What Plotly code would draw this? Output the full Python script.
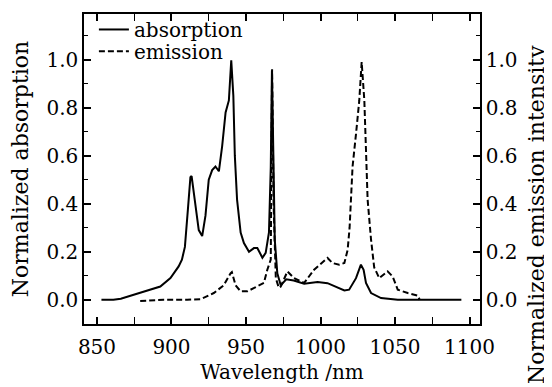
import plotly.graph_objects as go

# Absorption (solid)
abs_wl = [853, 861, 866, 879, 892.5, 899.3, 904.8, 907, 909, 911, 912.7, 913.5, 916, 918.3,
          920.6, 922.8, 925, 927.3, 929.5, 931.8, 934, 936.3, 938.5, 940.1, 941.5, 942.5,
          944, 946.4, 948.6, 952, 955.3, 957.6, 961, 963.2, 965.4, 966.6, 967.4, 968.3,
          969.3, 971, 973.3, 977, 982, 989, 998, 1004.7, 1010.3, 1016, 1019.2, 1023.8,
          1027.1, 1028.9, 1030.5, 1033.9, 1040.6, 1051.8, 1094.5]
abs_val = [0.0, 0.0, 0.004, 0.028, 0.055, 0.09, 0.139, 0.167, 0.22, 0.375, 0.51, 0.515, 0.39, 0.29,
           0.265, 0.35, 0.50, 0.54, 0.555, 0.535, 0.64, 0.78, 0.83, 0.997, 0.85, 0.6,
           0.417, 0.28, 0.236, 0.20, 0.215, 0.215, 0.175, 0.195, 0.28, 0.55, 0.955, 0.6,
           0.25, 0.11, 0.06, 0.085, 0.08, 0.067, 0.074, 0.069, 0.053, 0.039, 0.042, 0.09,
           0.146, 0.125, 0.07, 0.028, 0.007, 0.0, 0.0]

# Emission (dashed)
em_wl = [879, 894.7, 910.5, 919.5, 928.4, 935, 939.6, 940.5, 943, 946.4, 950.9, 957.6, 962,
         964.3, 966.6, 967.5, 968.5, 970, 972, 973.3, 977.8, 982.2, 989, 995.7, 1001.3,
         1004.7, 1008, 1012.5, 1016, 1018.2, 1019.5, 1020.5, 1021.5, 1023.8, 1026, 1027.6,
         1029.4, 1030.5, 1031.6, 1033.9, 1036, 1039.4, 1045, 1048.4, 1051.8, 1058.5, 1065.3, 1066.5]
em_val = [-0.005, 0.0, 0.0, 0.002, 0.028, 0.06, 0.11, 0.115, 0.06, 0.035, 0.035, 0.055, 0.07,
          0.125, 0.167, 0.96, 0.4, 0.09, 0.05, 0.055, 0.118, 0.09, 0.07, 0.125, 0.153,
          0.174, 0.153, 0.146, 0.153, 0.208, 0.3, 0.42, 0.555, 0.69, 0.83, 0.99,
          0.83, 0.625, 0.417, 0.25, 0.135, 0.09, 0.118, 0.097, 0.042, 0.028, 0.017, 0.0]

x_ticks = [850, 900, 950, 1000, 1050, 1100]
y_ticks = [0.0, 0.2, 0.4, 0.6, 0.8, 1.0]
y_ticklabels = ["0.0", "0.2", "0.4", "0.6", "0.8", "1.0"]

FONT = "DejaVu Serif"

fig = go.Figure()
fig.add_trace(go.Scatter(x=abs_wl, y=abs_val, mode="lines", name="absorption",
                         line=dict(color="black", width=2), legend="legend"))
fig.add_trace(go.Scatter(x=em_wl, y=em_val, mode="lines", name="emission", yaxis="y2",
                         line=dict(color="black", width=2, dash="6px,3px"), legend="legend2"))

axis_common = dict(showline=True, linecolor="black", linewidth=1.5, ticks="inside",
                   ticklen=7, tickwidth=1.5, tickcolor="black", showgrid=False, zeroline=False,
                   automargin=False,
                   tickfont=dict(family=FONT, size=20, color="black"))
minor_common = dict(ticks="inside", ticklen=4, tickcolor="black", tickwidth=1.2)

# page body has an 8px offset, so the figure is 8px smaller and margins adjusted
fig.update_layout(
    width=544, height=379,
    margin=dict(l=76, r=72, t=6, b=63, autoexpand=False),
    paper_bgcolor="white", plot_bgcolor="white",
    showlegend=True,
    xaxis=dict(range=[841.3, 1107], tickvals=x_ticks, mirror="allticks",
               minor=dict(dtick=25, tick0=850, **minor_common),
               ticklabelstandoff=4,
               title=dict(text="Wavelength /nm", font=dict(family=FONT, size=20, color="black"), standoff=7),
               **axis_common),
    yaxis=dict(range=[-0.101, 1.19], tickvals=y_ticks, ticktext=y_ticklabels,
               minor=dict(dtick=0.1, tick0=0, **minor_common),
               title=dict(text="Normalized absorption", font=dict(family=FONT, size=22, color="black"), standoff=15),
               **axis_common),
    yaxis2=dict(range=[-0.101, 1.19], tickvals=y_ticks, ticktext=y_ticklabels, overlaying="y", side="right",
                minor=dict(dtick=0.1, tick0=0, **minor_common),
                **axis_common),
    legend=dict(x=0.025, y=1.013, xanchor="left", yanchor="top", bgcolor="rgba(0,0,0,0)",
                font=dict(family=FONT, size=20, color="black")),
    legend2=dict(x=0.025, y=0.943, xanchor="left", yanchor="top", bgcolor="rgba(0,0,0,0)",
                 font=dict(family=FONT, size=20, color="black")),
    annotations=[dict(text="Normalized emission intensity", xref="paper", yref="paper",
                      x=1.144, y=0.352, xanchor="center", yanchor="middle", textangle=-90,
                      showarrow=False, font=dict(family=FONT, size=22, color="black"))],
)

fig.write_html("out.html")
